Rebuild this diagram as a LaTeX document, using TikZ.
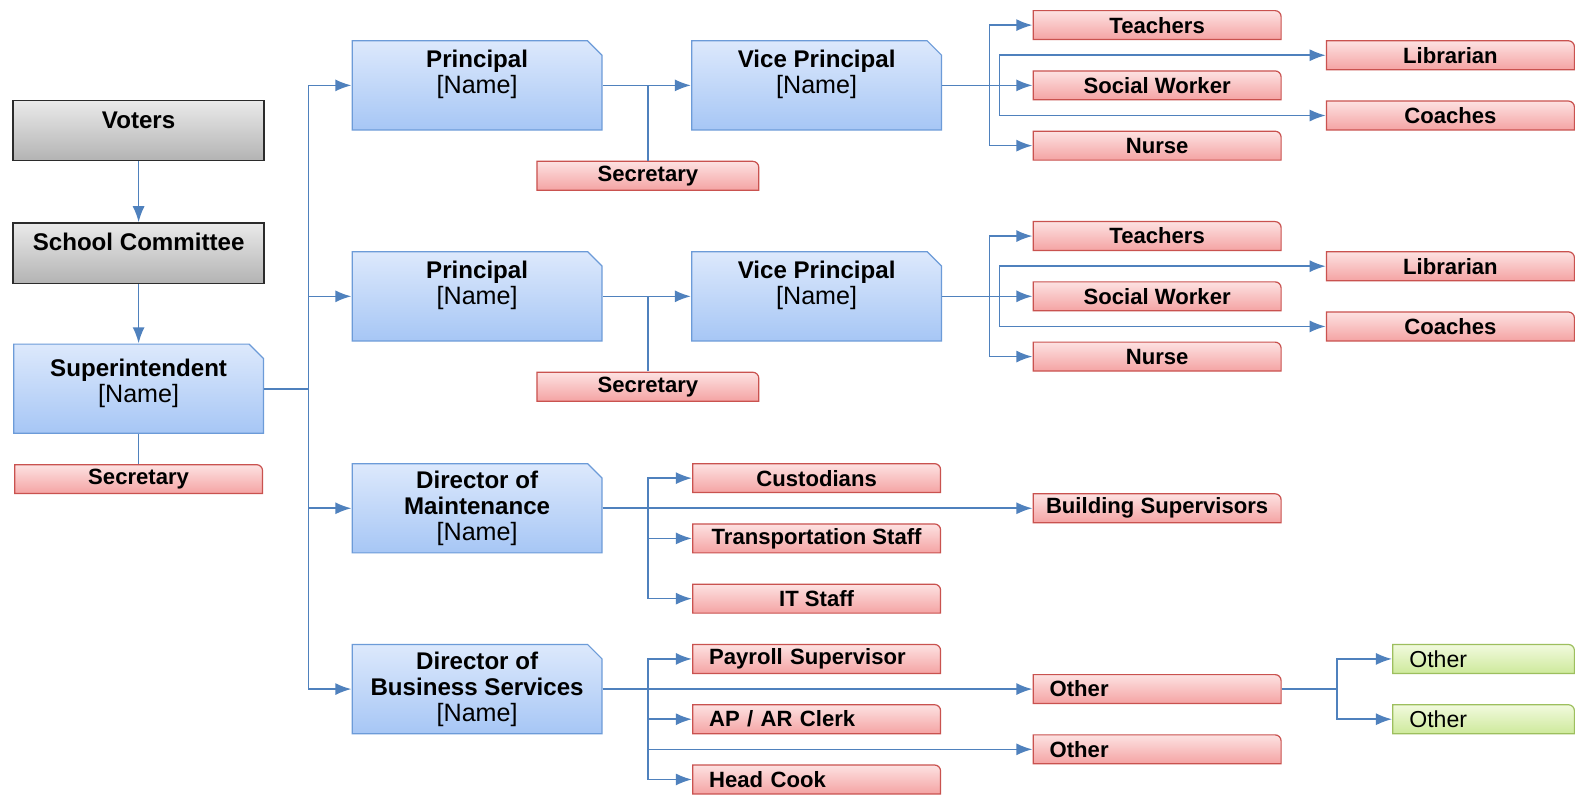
\documentclass[tikz,border=0pt]{standalone}
\usepackage{fontspec}
\setmainfont{Liberation Sans}
\usetikzlibrary{arrows.meta}

\definecolor{conn}{HTML}{4F81BD}
\definecolor{bluetop}{HTML}{DDE9FC}
\definecolor{bluebot}{HTML}{A6C6F5}
\definecolor{bluedraw}{HTML}{6C9BD8}
\definecolor{redtop}{HTML}{FDE3E3}
\definecolor{redbot}{HTML}{F4A2A2}
\definecolor{reddraw}{HTML}{C9524F}
\definecolor{graytop}{HTML}{EAEAEA}
\definecolor{graybot}{HTML}{B3B3B3}
\definecolor{graydraw}{HTML}{2B2B2B}
\definecolor{greentop}{HTML}{F2FADF}
\definecolor{greenbot}{HTML}{CDE99A}
\definecolor{greendraw}{HTML}{9DBF5E}

\newcommand{\pname}{{\mdseries\fontsize{25}{26}\selectfont[Name]}}

\tikzset{
  roundfill/.style={path picture={\draw[line width=1.2pt,#1]
      ([shift={(.6pt,.6pt)}]path picture bounding box.south west)
      -- ([shift={(.6pt,-.6pt)}]path picture bounding box.north west)
      -- ([shift={(-6.6pt,-.6pt)}]path picture bounding box.north east)
      arc[start angle=90, end angle=0, radius=6pt]
      -- ([shift={(-.6pt,.6pt)}]path picture bounding box.south east) -- cycle;}},
  cutfill/.style={path picture={\draw[line width=1.2pt,#1]
      ([shift={(.6pt,.6pt)}]path picture bounding box.south west)
      -- ([shift={(.6pt,-.6pt)}]path picture bounding box.north west)
      -- ([shift={(-15pt,-.6pt)}]path picture bounding box.north east)
      -- ([shift={(-.6pt,-15pt)}]path picture bounding box.north east)
      -- ([shift={(-.6pt,.6pt)}]path picture bounding box.south east) -- cycle;}}
}

\begin{document}
\begin{tikzpicture}[x=1pt, y=-1pt,
    graybox/.style={rectangle, draw=graydraw, line width=1.5pt, top color=graytop, bottom color=graybot,
                    minimum width=250pt, minimum height=60pt, inner sep=0,
                    text height=17pt, text depth=22pt,
                    font=\fontsize{24}{26}\selectfont\bfseries},
    bluebox/.style={rectangle, minimum width=250pt, minimum height=90pt, inner sep=0, align=center,
                    cutfill={draw=bluedraw, top color=bluetop, bottom color=bluebot},
                    font=\fontsize{24}{26}\selectfont\bfseries},
    redbox/.style={rectangle, minimum width=248pt, minimum height=30pt, inner sep=0,
                   roundfill={draw=reddraw, top color=redtop, bottom color=redbot},
                   font=\fontsize{22}{24}\selectfont\bfseries},
    leftbox/.style={redbox, inner xsep=17pt, text width=214pt, align=left},
    greenbox/.style={rectangle, minimum width=182pt, minimum height=30pt, inner xsep=17pt,
                     text width=148pt, align=left,
                     roundfill={draw=greendraw, top color=greentop, bottom color=greenbot},
                     font=\fontsize{23}{24}\selectfont},
    link/.style={draw=conn, line width=1.6pt},
    arr/.style={link, -{Latex[length=16pt,width=12pt]}}]
  \path[use as bounding box, fill=white] (0,0) rectangle (1568,792);

  % left column
  \node[graybox] (voters) at (138,130) {Voters};
  \node[graybox] (committee) at (138,252) {School Committee};
  \node[bluebox, text depth=15pt] (super) at (138,387) {Superintendent\\\pname};
  \node[redbox] (supsec) at (138,477) {Secretary};

  % first principal
  \node[bluebox, text depth=27pt] (p1) at (475,85) {Principal\\\pname};
  \node[bluebox, text depth=27pt] (vp1) at (813,85) {Vice Principal\\\pname};
  \node[redbox, minimum width=222pt] (sec1) at (645,175) {Secretary};
  \node[redbox] (teach1) at (1152,25) {Teachers};
  \node[redbox] (social1) at (1152,85) {Social Worker};
  \node[redbox] (nurse1) at (1152,145) {Nurse};
  \node[redbox] (libr1) at (1444,55) {Librarian};
  \node[redbox] (coach1) at (1444,115) {Coaches};

  % second principal
  \node[bluebox, text depth=27pt] (p2) at (475,295) {Principal\\\pname};
  \node[bluebox, text depth=27pt] (vp2) at (813,295) {Vice Principal\\\pname};
  \node[redbox, minimum width=222pt] (sec2) at (645,385) {Secretary};
  \node[redbox] (teach2) at (1152,235) {Teachers};
  \node[redbox] (social2) at (1152,295) {Social Worker};
  \node[redbox] (nurse2) at (1152,355) {Nurse};
  \node[redbox] (libr2) at (1444,265) {Librarian};
  \node[redbox] (coach2) at (1444,325) {Coaches};

  % maintenance
  \node[bluebox] (maint) at (475,506) {Director of\\Maintenance\\\pname};
  \node[redbox] (cust) at (813,476) {Custodians};
  \node[redbox] (trans) at (813,536) {Transportation Staff};
  \node[redbox] (itstaff) at (813,596) {IT Staff};
  \node[redbox] (bsup) at (1152,506) {Building Supervisors};

  % business services
  \node[bluebox] (bus) at (475,686) {Director of\\Business Services\\\pname};
  \node[leftbox] (payroll) at (813,656) {Payroll Supervisor};
  \node[leftbox] (clerk) at (813,716) {AP / AR Clerk};
  \node[leftbox] (cook) at (813,776) {Head Cook};
  \node[leftbox] (other1) at (1152,686) {Other};
  \node[leftbox] (other2) at (1152,746) {Other};
  \node[greenbox] (green1) at (1477,656) {Other};
  \node[greenbox] (green2) at (1477,716) {Other};

  \draw[arr] (voters) -- (committee);
  \draw[arr] (committee) -- (super);
  \draw[link] (super) -- (supsec);
  \draw[arr] (super.east) -- ++(44,0) |- (p1.west);
  \draw[arr] (super.east) -- ++(44,0) |- (p2.west);
  \draw[arr] (super.east) -- ++(44,0) |- (maint.west);
  \draw[arr] (super.east) -- ++(44,0) |- (bus.west);

  \draw[arr] (p1) -- (vp1); \draw[link] (sec1.north) -- (sec1.north |- p1.east);
  \draw[arr] (vp1.east) -- ++(47,0) |- (teach1.west);
  \draw[arr] (vp1.east) -- ++(47,0) |- (social1.west);
  \draw[arr] (vp1.east) -- ++(47,0) |- (nurse1.west);
  \draw[arr] (vp1.east) -- ++(57,0) |- (libr1.west);
  \draw[arr] (vp1.east) -- ++(57,0) |- (coach1.west);

  \draw[arr] (p2) -- (vp2); \draw[link] (sec2.north) -- (sec2.north |- p2.east);
  \draw[arr] (vp2.east) -- ++(47,0) |- (teach2.west);
  \draw[arr] (vp2.east) -- ++(47,0) |- (social2.west);
  \draw[arr] (vp2.east) -- ++(47,0) |- (nurse2.west);
  \draw[arr] (vp2.east) -- ++(57,0) |- (libr2.west);
  \draw[arr] (vp2.east) -- ++(57,0) |- (coach2.west);

  \draw[arr] (maint) -- (bsup);
  \draw[arr] (maint.east) -- ++(45,0) |- (cust.west);
  \draw[arr] (maint.east) -- ++(45,0) |- (trans.west);
  \draw[arr] (maint.east) -- ++(45,0) |- (itstaff.west);

  \draw[arr] (bus) -- (other1);
  \draw[arr] (bus.east) -- ++(45,0) |- (payroll.west);
  \draw[arr] (bus.east) -- ++(45,0) |- (clerk.west);
  \draw[arr] (bus.east) -- ++(45,0) |- (cook.west);
  \draw[arr] (bus.east) -- ++(45,0) |- (other2.west);
  \draw[arr] (other1.east) -- ++(55,0) |- (green1.west);
  \draw[arr] (other1.east) -- ++(55,0) |- (green2.west);
\end{tikzpicture}
\end{document}
